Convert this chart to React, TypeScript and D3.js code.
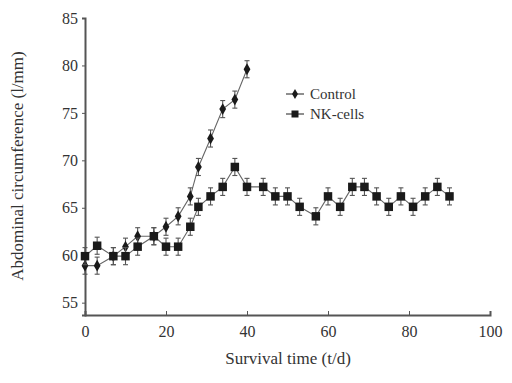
import { useRef, useEffect } from "react";
import * as d3 from "d3";

const controlDays = [0, 3, 7, 10, 13, 17, 20, 23, 26, 28, 31, 34, 37, 40];
const controlValues = [58.9, 58.9, 59.9, 60.9, 62.0, 62.0, 63.0, 64.1, 66.2, 69.3, 72.3, 75.4, 76.4, 79.6];

const nkDays = [0, 3, 7, 10, 13, 17, 20, 23, 26, 28, 31, 34, 37, 40, 44, 47, 50, 53, 57, 60, 63, 66, 69, 72, 75, 78, 81, 84, 87, 90];
const nkValues = [59.9, 61.0, 59.9, 59.9, 60.9, 62.0, 60.9, 60.9, 63.0, 65.1, 66.2, 67.2, 69.3, 67.2, 67.2, 66.2, 66.2, 65.1, 64.1, 66.2, 65.1, 67.2, 67.2, 66.2, 65.1, 66.2, 65.1, 66.2, 67.2, 66.2];

const errorSize = 0.9;
const xTicks = [0, 20, 40, 60, 80, 100];
const yTicks = [55, 60, 65, 70, 75, 80, 85];

export default function App() {
  const svgRef = useRef(null);

  useEffect(() => {
    const svg = d3.select(svgRef.current);
    svg.selectAll("*").remove();

    const x = d3.scaleLinear().domain([0, 100]).range([85, 490]);
    const y = d3.scaleLinear().domain([53.7, 85]).range([315, 18]);
    const font = "'Liberation Serif', 'Times New Roman', serif";
    const ink = "#1a1a1a";

    // axes
    const gx = svg.append("g").attr("transform", "translate(0,315)")
      .call(d3.axisBottom(x).tickValues(xTicks).tickSize(-4).tickPadding(8));
    const gy = svg.append("g").attr("transform", "translate(85,0)")
      .call(d3.axisLeft(y).tickValues(yTicks).tickSize(3).tickPadding(4));
    [gx, gy].forEach(g => {
      g.select(".domain").attr("stroke", "#555").attr("stroke-width", 2);
      g.selectAll(".tick line").attr("stroke", "#555");
      g.selectAll(".tick text").attr("font-family", font).attr("font-size", 16).attr("fill", "#333");
    });
    gx.selectAll(".tick text").attr("dy", "0.9em");

    const series = [
      { days: controlDays, values: controlValues, big: false },
      { days: nkDays, values: nkValues, big: true },
    ];

    series.forEach(s => {
      const pts = s.days.map((d, i) => [d, s.values[i]] as [number, number]);
      const line = d3.line<[number, number]>().x(d => x(d[0])).y(d => y(d[1]));
      svg.append("path").attr("d", line(pts)!).attr("fill", "none")
        .attr("stroke", "#666").attr("stroke-width", 1.1);

      const g = svg.append("g");
      g.selectAll("line.eb").data(pts).join("line")
        .attr("x1", d => x(d[0])).attr("x2", d => x(d[0]))
        .attr("y1", d => y(d[1] - errorSize)).attr("y2", d => y(d[1] + errorSize))
        .attr("stroke", "#555").attr("stroke-width", 1.1);
      [1, -1].forEach(sign => {
        g.selectAll("line.cap" + sign).data(pts).join("line")
          .attr("x1", d => x(d[0]) - 2.5).attr("x2", d => x(d[0]) + 2.5)
          .attr("y1", d => y(d[1] + sign * errorSize)).attr("y2", d => y(d[1] + sign * errorSize))
          .attr("stroke", "#555").attr("stroke-width", 1.1);
      });
      const sym = d3.symbol().type(s.big ? d3.symbolSquare : d3.symbolDiamond).size(s.big ? 72 : 40);
      g.selectAll("path.m").data(pts).join("path")
        .attr("transform", d => `translate(${x(d[0])},${y(d[1])})`)
        .attr("d", sym()!).attr("fill", ink);
    });

    // legend
    const legend = [
      { label: "Control", big: false, ly: 94 },
      { label: "NK-cells", big: true, ly: 114 },
    ];
    legend.forEach(l => {
      svg.append("line").attr("x1", 286).attr("x2", 304).attr("y1", l.ly).attr("y2", l.ly)
        .attr("stroke", "#444").attr("stroke-width", 1.2);
      svg.append("path").attr("transform", `translate(295,${l.ly})`)
        .attr("d", d3.symbol().type(l.big ? d3.symbolSquare : d3.symbolDiamond).size(l.big ? 49 : 30)()!)
        .attr("fill", ink);
      svg.append("text").attr("x", 310).attr("y", l.ly).attr("dy", "0.35em")
        .attr("font-family", font).attr("font-size", 15).attr("fill", "#333").text(l.label);
    });

    // axis titles
    svg.append("text").attr("x", 288).attr("y", 358).attr("dy", "0.35em").attr("text-anchor", "middle")
      .attr("font-family", font).attr("font-size", 17).attr("fill", "#333")
      .text("Survival time (t/d)");
    svg.append("text").attr("transform", "translate(17,166) rotate(-90)").attr("dy", "0.35em")
      .attr("text-anchor", "middle").attr("font-family", font).attr("font-size", 17).attr("fill", "#333")
      .text("Abdominal circumference (l/mm)");
  }, []);

  return (
    <svg ref={svgRef} width={512} height={383}
      style={{ position: "absolute", left: 0, top: 0, background: "#fff" }} />
  );
}
